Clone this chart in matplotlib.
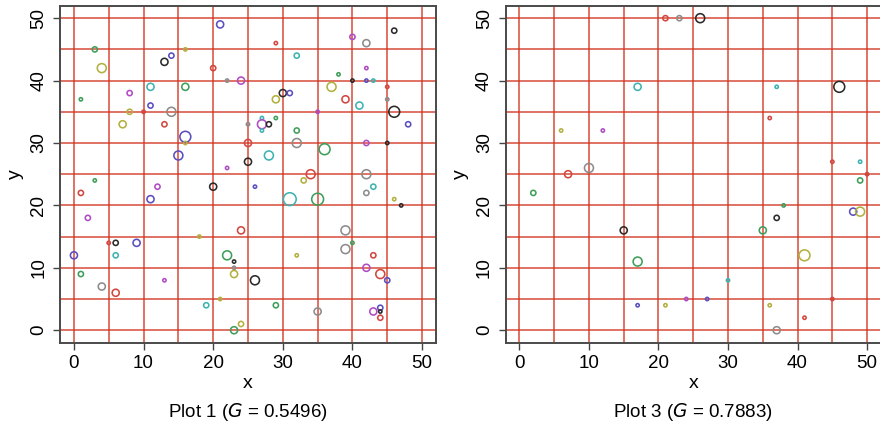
import matplotlib
matplotlib.use("Agg")
import matplotlib.pyplot as plt

plt.rcParams['font.family'] = ['Liberation Sans Narrow', 'Liberation Sans', 'DejaVu Sans']
plt.rcParams['mathtext.fontset'] = 'custom'
plt.rcParams['mathtext.rm'] = 'Liberation Sans Narrow'
plt.rcParams['mathtext.it'] = 'Liberation Sans Narrow:italic'

# point colours (R-like palette, washed out)
palette = {'k': '#2a2a2a', 'r': '#d2473f', 'g': '#3f9e5a', 'b': '#5a4fbf',
           'c': '#3fb2b2', 'm': '#b04cc4', 'y': '#b3b040', 'a': '#8c8c8c'}

# ---- Plot 1 ----
x1 = [3, 4, 13, 14, 11, 16, 1, 8, 11, 8, 10, 14, 7, 13, 16, 16, 15, 3, 1, 12,
      11, 2, 5, 6, 9, 0, 6, 1, 4, 6, 13, 21, 29, 32, 16, 20, 22, 24, 30, 31,
      29, 27, 29, 25, 27, 28, 27, 32, 25, 32, 28, 25, 22, 20, 26, 34, 33, 31, 35, 24,
      18, 32, 22, 23, 23, 23, 26, 21, 19, 29, 24, 23, 40, 42, 46, 38, 42, 40, 42, 43,
      37, 45, 39, 45, 41, 46, 35, 48, 42, 45, 36, 42, 43, 42, 46, 47, 39, 40, 39, 43,
      42, 44, 45, 35, 43, 44, 44, 44]
y1 = [45, 42, 43, 44, 39, 39, 37, 38, 36, 35, 35, 35, 33, 33, 31, 30, 28, 24, 22, 23,
      21, 18, 14, 14, 14, 12, 12, 9, 7, 6, 8, 49, 46, 44, 45, 42, 40, 40, 38, 38,
      37, 34, 34, 33, 33, 33, 32, 32, 30, 30, 28, 27, 26, 23, 23, 25, 24, 21, 21, 16,
      15, 12, 12, 11, 10, 9, 8, 5, 4, 4, 1, 0, 47, 46, 48, 41, 42, 40, 40, 40,
      39, 39, 37, 37, 36, 35, 35, 33, 30, 30, 29, 25, 23, 22, 21, 20, 16, 14, 13, 12,
      10, 9, 8, 3, 3, 3.6, 3, 2]
col1 = list('gykbcggmby' 'rayrbybgrm' 'bmrkbbcgar' 'mbrcyramkb' 'ycgamkcgra'
            'ckmkbrycgr' 'yygkaykycg' 'ygmakgmkbc' 'yrrackmbmk' 'gacaykagar'
            'mrbambkr')
cex1 = [2, 4, 3, 2, 3, 3, 1, 2, 2, 2, 1, 4, 3, 2, 5, 1, 4, 1, 2, 2,
        3, 2, 1, 2, 3, 3, 2, 2, 3, 3, 1, 3, 1, 2, 1, 2, 1, 3, 3, 2,
        3, 1, 1, 1, 4, 2, 1, 2, 3, 4, 4, 3, 1, 3, 1, 4, 2, 6, 5.5, 3,
        1, 1, 4, 1, 1, 3, 4, 1, 2, 2, 2, 3, 2, 3, 2, 1, 1, 1, 1, 1,
        4, 1, 3, 1, 3, 5, 1, 2, 2, 1, 5, 4, 2, 2, 1, 1, 4, 1, 4, 2,
        3, 4, 2, 3, 3, 2, 1, 2]

# ---- Plot 3 ----
x3 = [17, 6, 12, 7, 10, 21, 23, 26, 37, 46, 36, 45, 49, 50, 2, 15, 17, 17, 49, 38,
      37, 35, 48, 49, 41, 30, 24, 27, 21, 36, 45, 41, 37]
y3 = [39, 32, 32, 25, 26, 50, 50, 50, 39, 39, 34, 27, 27, 25, 22, 16, 11, 4, 24, 20,
      18, 16, 19, 19, 12, 8, 5, 5, 4, 4, 5, 2, 0]
col3 = list('cymrarakckrrcrgkgbggkgbyycmbyyrra')
cex3 = [3, 1, 1, 3, 4, 2, 2, 4, 1, 5, 1, 1, 1, 1, 2, 3, 4, 1, 2, 1,
        2, 3, 3, 4, 5, 1, 1, 1, 1, 1, 1, 1, 3]

panels = [(x1, y1, col1, cex1, 'Plot 1', '0.5496'),
          (x3, y3, col3, cex3, 'Plot 3', '0.7883')]

grid_vals = list(range(0, 51, 5))
tick_vals = list(range(0, 51, 10))

W, H = 880, 429
fig = plt.figure(figsize=(W / 100, H / 100), dpi=100)
boxes = [(60, 436), (505.5, 881)]
top_px, bot_px = 5.7, 342.7

for (xs, ys, cs, cx, name, g), (l, r) in zip(panels, boxes):
    ax = fig.add_axes([l / W, 1 - bot_px / H, (r - l) / W, (bot_px - top_px) / H])
    ax.set_xlim(-2, 52)
    ax.set_ylim(-2, 52)
    for v in grid_vals:
        ax.axvline(v, color='#d2331f', alpha=0.78, lw=1.25, zorder=1)
        ax.axhline(v, color='#d2331f', alpha=0.78, lw=1.25, zorder=1)
    diam = [(1.4 + 1.9 * c) * 0.72 for c in cx]
    ax.scatter(xs, ys, s=[d * d for d in diam], facecolors='none',
               edgecolors=[palette[c] for c in cs], linewidths=1.15, zorder=3)
    ax.set_xticks(tick_vals)
    ax.set_yticks(tick_vals)
    ax.set_yticklabels([str(v) for v in tick_vals], rotation=90, va='center')
    ax.tick_params(direction='out', length=5, width=1.0, color='#444444',
                   labelsize=13.5, pad=4)
    for s in ax.spines.values():
        s.set_color('#4a4a4a')
        s.set_linewidth(1.4)
    ax.set_xlabel('x', fontsize=14, labelpad=2)
    ax.set_ylabel('y', fontsize=14, labelpad=5)
    ax.text(0.5, -0.205, name + ' ($G$ = ' + g + ')', transform=ax.transAxes,
            ha='center', va='center', fontsize=13.5)

fig.savefig('out.png', dpi=100)
